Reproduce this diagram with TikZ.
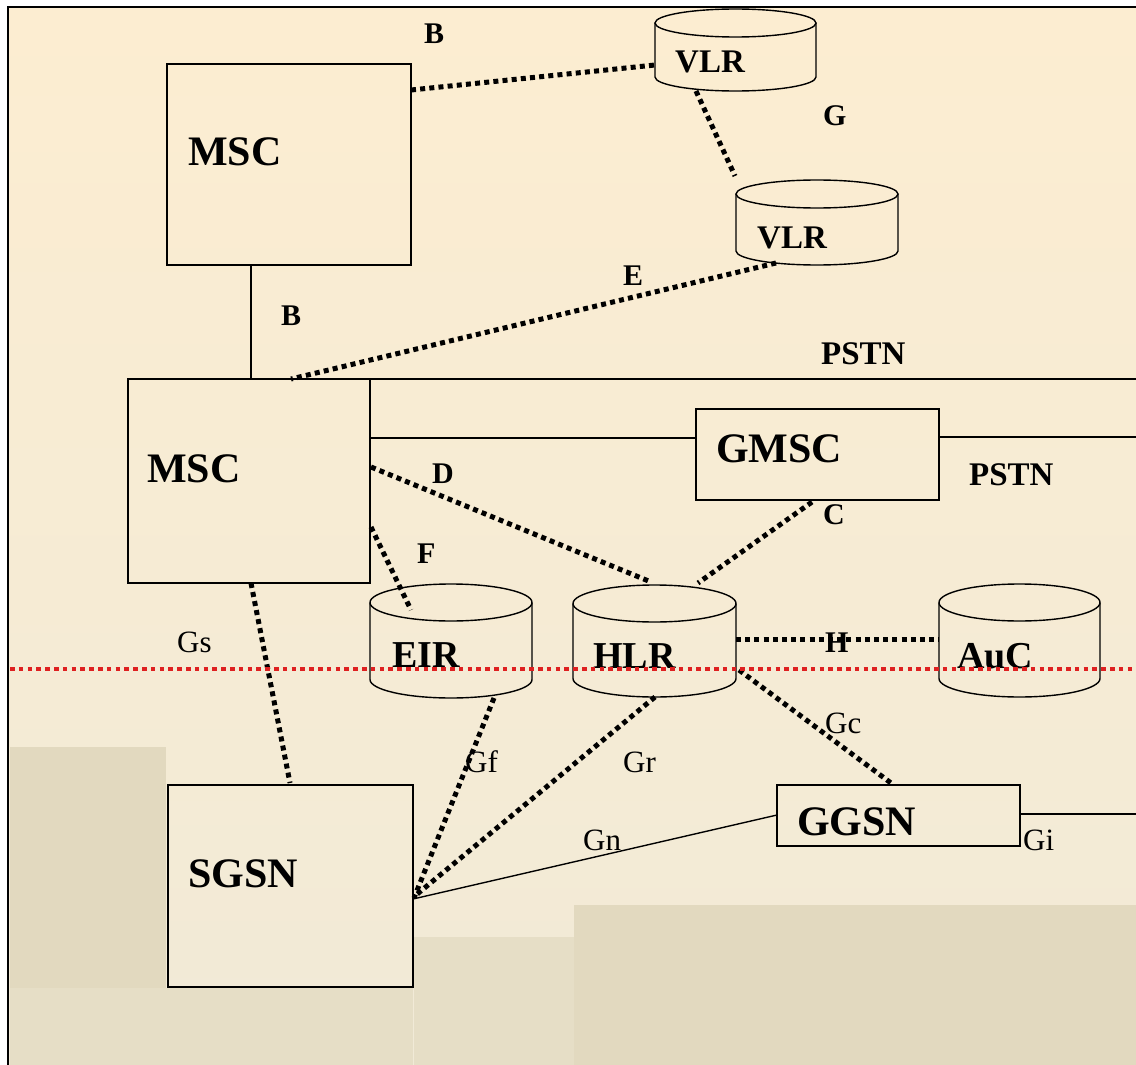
\documentclass[tikz,border=0pt]{standalone}
\usepackage{fontspec}
\setmainfont{Liberation Serif}
\usetikzlibrary{calc}
\definecolor{creamtop}{RGB}{252,237,209}
\definecolor{creambot}{RGB}{241,234,215}
\definecolor{tandark}{RGB}{226,217,191}
\definecolor{tanmid}{RGB}{230,222,198}
\definecolor{reddot}{RGB}{222,32,32}
\newcommand\drawcyl[3]{%
  \draw[line width=1.4pt] ($(#1.north west)+(0,#3)$) -- ($(#1.south west)+(0,-#3)$)
    arc[start angle=180,end angle=360,x radius=#2pt,y radius=#3pt] -- ($(#1.north east)+(0,#3)$);
  \draw[line width=1.4pt] ($(#1.north)+(0,#3)$) ellipse[x radius=#2pt,y radius=#3pt];}
\begin{document}
\begin{tikzpicture}[x=1pt,y=-1pt,
  box/.style={draw,line width=1.4pt,inner sep=0pt,outer sep=0pt},
  cylbox/.style={inner sep=0pt,outer sep=0pt},
  dots/.style={line width=5pt,dash pattern=on 5pt off 4.2pt},
  solid line/.style={line width=1.4pt},
  bigtxt/.style={inner sep=0pt,anchor=base west,font=\fontsize{42}{48}\selectfont\bfseries},
  midtxt/.style={inner sep=0pt,anchor=base west,font=\fontsize{38}{44}\selectfont\bfseries},
  vlrtxt/.style={inner sep=0pt,anchor=base west,font=\fontsize{33}{38}\selectfont\bfseries},
  lbl/.style={inner sep=0pt,anchor=base west,font=\fontsize{30}{34}\selectfont\bfseries},
  glbl/.style={inner sep=0pt,anchor=base west,font=\fontsize{31}{35}\selectfont}]
\useasboundingbox (0,0) rectangle (1136,1065);
% background
\fill[white] (0,0) rectangle (1136,1065);
\shade[top color=creamtop,bottom color=creambot] (8,7) rectangle (1136,1065);
\fill[tandark] (10,747) rectangle (166,988);
\fill[tanmid] (10,988) rectangle (413,1065);
\fill[tanmid] (414,937) rectangle (574,1065);
\fill[tandark] (574,905) rectangle (1136,1065);
\draw[line width=2pt] (8,1065) -- (8,7) -- (1136,7);
% boxes
\node[box,minimum width=244pt,minimum height=201pt] (msc1) at (289,164.5) {};
\node[box,minimum width=242pt,minimum height=204pt] (msc2) at (249,481) {};
\node[box,minimum width=243pt,minimum height=91pt] (gmsc) at (817.5,454.5) {};
\node[box,minimum width=245pt,minimum height=202pt] (sgsn) at (290.5,886) {};
\node[box,minimum width=243pt,minimum height=61pt] (ggsn) at (898.5,815.5) {};
% cylinders
\node[cylbox,minimum width=161pt,minimum height=82pt] (vlr1) at (735.5,50) {};
\node[cylbox,minimum width=162pt,minimum height=85pt] (vlr2) at (817,222.5) {};
\node[cylbox,minimum width=162pt,minimum height=114pt] (eir) at (451,641) {};
\node[cylbox,minimum width=163pt,minimum height=112pt] (hlr) at (654.5,641) {};
\node[cylbox,minimum width=161pt,minimum height=113pt] (auc) at (1019.5,640.5) {};
\drawcyl{vlr1}{80.5}{14}
\drawcyl{vlr2}{81}{14}
\drawcyl{eir}{81}{18.5}
\drawcyl{hlr}{81.5}{18.5}
\drawcyl{auc}{80.5}{18.5}
% texts
\node[bigtxt] (tmsc1) at (188,165) {MSC};
\node[bigtxt] (tmsc2) at (147,482) {MSC};
\node[bigtxt] (tgmsc) at (716,462) {GMSC};
\node[bigtxt] (tsgsn) at (188,887) {SGSN};
\node[bigtxt] (tggsn) at (797,835) {GGSN};
\node[vlrtxt] (tvlr1) at (675,73) {VLR};
\node[vlrtxt] (tvlr2) at (757,248) {VLR};
\node[midtxt] (teir) at (392,667) {EIR};
\node[midtxt] (thlr) at (593,668) {HLR};
\node[midtxt] (tauc) at (957,668) {AuC};
% coordinates for free ends
\coordinate (pstnR) at (1136,379);
\coordinate (gmscR) at (1136,437);
\coordinate (ggsnR) at (1136,814);
\coordinate (redL) at (10,669);
\coordinate (redR) at (1136,669);
% connectors
\draw[dots] ($(msc1.north east)+(0,26)$) -- ($(vlr1.north west)+(0,56)$);
\draw[dots] ($(vlr1.south)+(-39.5,0)$) -- ($(vlr2.north west)+(-1,-4)$);
\draw[solid line] ($(msc1.south west)+(84,0)$) -- ($(msc2.north west)+(123,0)$);
\draw[dots] ($(vlr2.south)+(-41,-2)$) -- ($(msc2.north west)+(163,0)$);
\draw[solid line] (msc2.north east) -- (pstnR);
\draw[solid line] ($(msc2.north east)+(0,59)$) -- ($(gmsc.north west)+(0,29)$);
\draw[solid line] ($(gmsc.north east)+(0,28)$) -- (gmscR);
\draw[dots] ($(msc2.north east)+(1,88)$) -- ($(hlr.north west)+(78,-3)$);
\draw[dots] ($(gmsc.south west)+(116,2)$) -- ($(hlr.north west)+(125,-2)$);
\draw[dots] ($(msc2.north east)+(1,148)$) -- ($(eir.north west)+(41,26)$);
\draw[dots] ($(hlr.north east)+(0,54)$) -- ($(auc.north west)+(0,55)$);
\draw[dots] ($(msc2.south west)+(123,0)$) -- ($(sgsn.north west)+(122,-2)$);
\draw[dots] ($(eir.south west)+(124,0)$) -- ($(sgsn.north east)+(1,113)$);
\draw[dots] ($(hlr.south west)+(82,0)$) -- ($(sgsn.north east)+(3,110)$);
\draw[dots] ($(hlr.north east)+(3,85)$) -- ($(ggsn.north west)+(114,-2)$);
\draw[solid line] ($(sgsn.north east)+(0,114)$) -- ($(ggsn.north west)+(0,30)$);
\draw[solid line] ($(ggsn.north east)+(0,29)$) -- (ggsnR);
% labels
\node[lbl] (lB1) at (424,44) {B};
\node[lbl] (lB2) at (281,325) {B};
\node[lbl] (lG) at (823,125) {G};
\node[lbl] (lE) at (623,285) {E};
\node[lbl,font=\fontsize{33}{38}\selectfont\bfseries] (lP1) at (821,364) {PSTN};
\node[lbl,font=\fontsize{33}{38}\selectfont\bfseries] (lP2) at (969,485) {PSTN};
\node[lbl] (lD) at (432,483) {D};
\node[lbl] (lC) at (823,524) {C};
\node[lbl] (lF) at (417,563) {F};
\node[lbl] (lH) at (825,652) {H};
\node[glbl] (lGs) at (177,652) {Gs};
\node[glbl] (lGf) at (465,772) {Gf};
\node[glbl] (lGr) at (623,772) {Gr};
\node[glbl] (lGc) at (825,733) {Gc};
\node[glbl] (lGn) at (583,850) {Gn};
\node[glbl] (lGi) at (1023,850) {Gi};
% red boundary
\draw[reddot,line width=4.5pt,dash pattern=on 4.5pt off 4.3pt] (redL) -- (redR);
\end{tikzpicture}
\end{document}
